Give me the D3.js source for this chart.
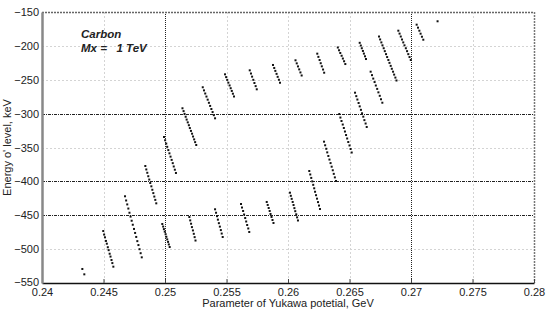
<!DOCTYPE html>
<html>
<head>
<meta charset="utf-8">
<script src="https://cdn.jsdelivr.net/npm/d3@7"></script>
<style>
  body { margin: 0; background: #fff; }
  text { font-family: "Liberation Sans", Arial, sans-serif; fill: #222; }
</style>
</head>
<body>
<svg id="chart" width="554" height="311"></svg>
<script>
// levels: [Yukawa parameter (GeV), energy (keV)]
var lowerBand = [
  [[0.24328, -529.3], [0.24344, -537.2]],
  [[0.24498, -473.3], [0.24505, -478.5], [0.24512, -482.6], [0.24520, -487.9], [0.24527, -492.0], [0.24535, -497.2],
   [0.24542, -501.5], [0.24550, -506.8], [0.24557, -511.0], [0.24565, -516.1], [0.24572, -520.6], [0.24580, -525.9]],
  [[0.24675, -422.0], [0.24684, -428.2], [0.24693, -434.0], [0.24702, -440.1], [0.24711, -446.3], [0.24720, -452.0],
   [0.24729, -458.1], [0.24738, -464.0], [0.24748, -470.2], [0.24757, -476.1], [0.24766, -482.0], [0.24775, -488.2],
   [0.24784, -494.0], [0.24793, -500.1], [0.24802, -506.0], [0.24811, -512.1]],
  [[0.24978, -462.9], [0.24985, -466.7], [0.24991, -470.5], [0.24998, -474.2], [0.25005, -478.0], [0.25011, -481.8],
   [0.25018, -485.6], [0.25025, -489.3], [0.25031, -493.1], [0.25038, -496.9]],
  [[0.25198, -452.6], [0.25205, -457.6], [0.25212, -462.5], [0.25219, -467.5], [0.25227, -472.4], [0.25234, -477.4],
   [0.25241, -482.3], [0.25248, -487.3]],
  [[0.25407, -441.2], [0.25415, -446.3], [0.25423, -451.4], [0.25430, -456.5], [0.25438, -461.7], [0.25446, -466.8],
   [0.25454, -471.9], [0.25461, -477.0], [0.25469, -482.1]],
  [[0.25618, -433.4], [0.25626, -438.6], [0.25635, -443.7], [0.25643, -448.9], [0.25652, -454.1], [0.25660, -459.2],
   [0.25668, -464.4], [0.25677, -469.5], [0.25685, -474.7]],
  [[0.25827, -430.4], [0.25835, -434.8], [0.25843, -439.3], [0.25851, -443.7], [0.25858, -448.1], [0.25866, -452.5],
   [0.25874, -457.0], [0.25882, -461.4]],
  [[0.26016, -416.7], [0.26023, -421.3], [0.26030, -425.8], [0.26038, -430.4], [0.26045, -434.9], [0.26052, -439.5],
   [0.26059, -444.0], [0.26067, -448.6], [0.26074, -453.1], [0.26081, -457.7]],
  [[0.26173, -384.7], [0.26181, -389.8], [0.26189, -394.9], [0.26197, -400.0], [0.26205, -405.1], [0.26213, -410.2],
   [0.26220, -415.3], [0.26228, -420.4], [0.26236, -425.5], [0.26244, -430.6], [0.26252, -435.7], [0.26260, -440.8]]
];

var middleBand = [
  [[0.24840, -377.3], [0.24848, -382.4], [0.24856, -387.3], [0.24864, -392.4], [0.24872, -397.3], [0.24880, -402.4],
   [0.24889, -407.3], [0.24897, -412.4], [0.24905, -417.3], [0.24913, -422.4], [0.24921, -427.3], [0.24929, -432.4]],
  [[0.24992, -334.5], [0.25001, -339.3], [0.25010, -344.2], [0.25018, -349.0], [0.25027, -353.8], [0.25036, -358.6],
   [0.25045, -363.5], [0.25054, -368.3], [0.25063, -373.1], [0.25071, -378.0], [0.25080, -382.8], [0.25089, -387.6]],
  [[0.26293, -341.4], [0.26302, -346.7], [0.26311, -351.9], [0.26319, -357.2], [0.26328, -362.5], [0.26337, -367.8],
   [0.26346, -373.0], [0.26355, -378.3], [0.26364, -383.6], [0.26372, -388.9], [0.26381, -394.1], [0.26390, -399.4]],
  [[0.26417, -300.6], [0.26426, -305.8], [0.26435, -310.9], [0.26445, -316.1], [0.26454, -321.2], [0.26463, -326.4],
   [0.26472, -331.6], [0.26481, -336.7], [0.26490, -341.9], [0.26500, -347.0], [0.26509, -352.2], [0.26518, -357.4]],
  [[0.26545, -269.1], [0.26555, -274.2], [0.26564, -279.2], [0.26574, -284.3], [0.26583, -289.3], [0.26593, -294.4],
   [0.26602, -299.5], [0.26612, -304.5], [0.26621, -309.6], [0.26631, -314.6], [0.26640, -319.7]],
  [[0.26672, -238.1], [0.26683, -243.2], [0.26693, -248.3], [0.26704, -253.4], [0.26714, -258.5], [0.26725, -263.5],
   [0.26735, -268.6], [0.26746, -273.7], [0.26756, -278.8], [0.26767, -283.9]]
];

var upperBand = [
  [[0.25142, -292.1], [0.25151, -296.3], [0.25159, -300.4], [0.25168, -304.6], [0.25176, -308.8], [0.25185, -312.9],
   [0.25194, -317.1], [0.25202, -321.3], [0.25211, -325.5], [0.25220, -329.6], [0.25228, -333.8], [0.25237, -338.0],
   [0.25245, -342.1], [0.25254, -346.3]],
  [[0.25307, -261.1], [0.25317, -265.7], [0.25327, -270.3], [0.25337, -274.8], [0.25347, -279.4], [0.25357, -284.0],
   [0.25367, -288.6], [0.25377, -293.2], [0.25387, -297.7], [0.25397, -302.3], [0.25407, -306.9]],
  [[0.25488, -242.0], [0.25497, -246.1], [0.25506, -250.2], [0.25515, -254.3], [0.25525, -258.4], [0.25534, -262.5],
   [0.25543, -266.5], [0.25552, -270.6], [0.25561, -274.7]],
  [[0.25689, -236.1], [0.25699, -240.8], [0.25708, -245.4], [0.25718, -250.1], [0.25727, -254.8], [0.25737, -259.4],
   [0.25746, -264.1]],
  [[0.25878, -228.2], [0.25888, -232.6], [0.25897, -236.9], [0.25907, -241.3], [0.25916, -245.7], [0.25926, -250.0],
   [0.25935, -254.4]],
  [[0.26061, -221.3], [0.26071, -225.8], [0.26081, -230.3], [0.26091, -234.7], [0.26101, -239.2], [0.26111, -243.7]],
  [[0.26238, -211.5], [0.26247, -216.2], [0.26257, -220.9], [0.26266, -225.6], [0.26275, -230.2], [0.26285, -234.9],
   [0.26294, -239.6]],
  [[0.26405, -202.4], [0.26415, -206.5], [0.26425, -210.5], [0.26436, -214.6], [0.26446, -218.7], [0.26456, -222.7],
   [0.26466, -226.8]],
  [[0.26583, -195.5], [0.26592, -199.5], [0.26600, -203.5], [0.26609, -207.5], [0.26617, -211.4], [0.26626, -215.4],
   [0.26634, -219.4]],
  [[0.26740, -186.2], [0.26749, -190.5], [0.26759, -194.9], [0.26768, -199.2], [0.26778, -203.5], [0.26787, -207.8],
   [0.26797, -212.2], [0.26806, -216.5], [0.26816, -220.8], [0.26825, -225.1], [0.26835, -229.5], [0.26844, -233.8],
   [0.26854, -238.1], [0.26863, -242.4], [0.26873, -246.8], [0.26882, -251.1]],
  [[0.26897, -177.6], [0.26907, -181.9], [0.26917, -186.2], [0.26927, -190.6], [0.26937, -194.9], [0.26947, -199.2],
   [0.26958, -203.5], [0.26968, -207.8], [0.26978, -212.2], [0.26988, -216.5], [0.26998, -220.8]],
  [[0.27046, -168.7], [0.27057, -173.1], [0.27068, -177.6], [0.27078, -182.0], [0.27089, -186.5], [0.27100, -190.9]],
  [[0.27216, -163.7]]
];

var xTicks = [0.24, 0.245, 0.25, 0.255, 0.26, 0.265, 0.27, 0.275, 0.28];
var xTickLabels = ["0.24", "0.245", "0.25", "0.255", "0.26", "0.265", "0.27", "0.275", "0.28"];
var yTicks = [-550, -500, -450, -400, -350, -300, -250, -200, -150];
// grid lines drawn darker in the original
var xDarkGrid = [0.25, 0.27];
var yDarkGrid = [-300, -400, -450];

var margin = {left: 42, right: 20, top: 12, bottom: 28};
var width = 554, height = 311;
var svg = d3.select("#chart");

var x = d3.scaleLinear().domain([0.24, 0.28]).range([margin.left, width - margin.right]);
var y = d3.scaleLinear().domain([-550, -150]).range([height - margin.bottom, margin.top]);

// light grid
var grid = svg.append("g");
grid.selectAll(".gx").data(xTicks.slice(1, -1).filter(function (d) { return xDarkGrid.indexOf(d) < 0; }))
  .enter().append("line")
  .attr("x1", function (d) { return Math.round(x(d)) + .5; })
  .attr("x2", function (d) { return Math.round(x(d)) + .5; })
  .attr("y1", y(-150)).attr("y2", y(-550))
  .attr("stroke", "#d4d4d4").attr("stroke-dasharray", "2,2");
grid.selectAll(".gy").data(yTicks.slice(1, -1).filter(function (d) { return yDarkGrid.indexOf(d) < 0; }))
  .enter().append("line")
  .attr("y1", function (d) { return Math.round(y(d)) + .5; })
  .attr("y2", function (d) { return Math.round(y(d)) + .5; })
  .attr("x1", x(0.24)).attr("x2", x(0.28))
  .attr("stroke", "#d4d4d4").attr("stroke-dasharray", "2,2");

// dark grid
grid.selectAll(".dx").data(xDarkGrid).enter().append("line")
  .attr("x1", function (d) { return Math.round(x(d)) + .5; })
  .attr("x2", function (d) { return Math.round(x(d)) + .5; })
  .attr("y1", y(-150)).attr("y2", y(-550))
  .attr("stroke", "#222").attr("stroke-dasharray", "1,1");
grid.selectAll(".dy").data(yDarkGrid).enter().append("line")
  .attr("y1", function (d) { return Math.round(y(d)) + .5; })
  .attr("y2", function (d) { return Math.round(y(d)) + .5; })
  .attr("x1", x(0.24)).attr("x2", x(0.28))
  .attr("stroke", "#222").attr("stroke-dasharray", "3,1,1,1");

// top and right borders
svg.append("line")
  .attr("x1", x(0.24)).attr("x2", x(0.28))
  .attr("y1", Math.round(y(-150)) + .5).attr("y2", Math.round(y(-150)) + .5)
  .attr("stroke", "#666").attr("stroke-width", 1.5).attr("stroke-dasharray", "2,1");
svg.append("line")
  .attr("x1", Math.round(x(0.28)) + .5).attr("x2", Math.round(x(0.28)) + .5)
  .attr("y1", y(-150)).attr("y2", y(-550))
  .attr("stroke", "#777").attr("stroke-width", 1.5).attr("stroke-dasharray", "2,1");

// axes
var xAxis = d3.axisBottom(x).tickValues(xTicks)
  .tickFormat(function (d, i) { return xTickLabels[i]; })
  .tickSizeInner(-4).tickSizeOuter(0).tickPadding(5);
var gx = svg.append("g").attr("transform", "translate(0," + y(-550) + ")").call(xAxis);
gx.select(".domain").attr("stroke", "#111").attr("stroke-width", 1.5);
gx.selectAll(".tick line").attr("stroke", "#444");
gx.selectAll("text").style("font-size", "11px").attr("fill", "#222").attr("font-family", null);

var yAxis = d3.axisLeft(y).tickValues(yTicks)
  .tickSizeInner(0).tickSizeOuter(0).tickPadding(3);
var gy = svg.append("g").attr("transform", "translate(" + x(0.24) + ",0)").call(yAxis);
gy.select(".domain").attr("stroke", "#888").attr("stroke-width", 2.5);
gy.selectAll("text").style("font-size", "11px").attr("fill", "#222").attr("font-family", null)
  .attr("dy", function (d) { return d === -550 ? "0.2em" : "0.32em"; });

// points
var bands = [lowerBand, middleBand, upperBand];
var pts = [];
bands.forEach(function (band) {
  band.forEach(function (seg) { seg.forEach(function (p) { pts.push(p); }); });
});
svg.append("g").selectAll("rect").data(pts).enter().append("rect")
  .attr("x", function (d) { return x(d[0]) - 1; })
  .attr("y", function (d) { return y(d[1]) - 1; })
  .attr("width", 2).attr("height", 2)
  .attr("fill", "#111");

// labels
svg.append("text")
  .attr("x", (x(0.24) + x(0.28)) / 2).attr("y", 307)
  .attr("text-anchor", "middle").style("font-size", "11px")
  .text("Parameter of Yukawa potetial, GeV");
svg.append("text")
  .attr("transform", "translate(11," + ((y(-150) + y(-550)) / 2) + ") rotate(-90)")
  .attr("text-anchor", "middle").style("font-size", "11px")
  .text("Energy o' level, keV");

var note = svg.append("g").style("font-size", "11.5px").style("font-weight", "bold")
  .style("font-style", "italic");
note.append("text").attr("x", 81).attr("y", 38).text("Carbon");
note.append("text").attr("x", 81).attr("y", 52).text("Mx =\u00a0\u00a0 1 TeV");
</script>
</body>
</html>
